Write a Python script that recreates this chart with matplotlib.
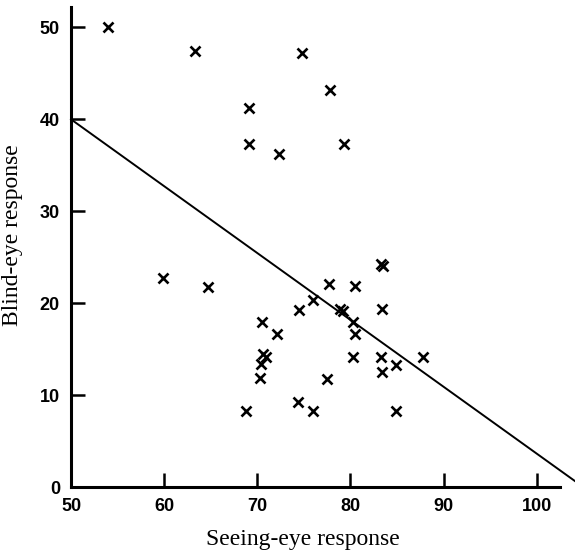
import matplotlib
matplotlib.use("Agg")
import matplotlib.pyplot as plt

# seeing-eye vs blind-eye responses
seeing = [54.0, 63.3, 74.8, 77.8, 69.1, 69.1, 72.3, 79.3,
          59.9, 64.7, 77.7, 80.5, 83.3, 83.5, 74.5, 76.0, 78.9, 79.2,
          80.3, 80.5, 83.4, 70.5, 72.1, 70.6, 70.9, 70.4, 70.3,
          80.3, 83.3, 84.9, 83.4, 77.5, 87.8,
          68.8, 74.4, 76.0, 84.9]
blind = [50.0, 47.4, 47.2, 43.2, 41.2, 37.3, 36.2, 37.3,
         22.7, 21.8, 22.1, 21.9, 24.3, 24.0, 19.3, 20.3, 19.4, 19.1,
         18.0, 16.6, 19.4, 18.0, 16.7, 14.5, 14.2, 13.4, 11.9,
         14.2, 14.2, 13.3, 12.5, 11.8, 14.2,
         8.3, 9.3, 8.3, 8.3]

# fitted line drawn on the figure
line_x = [50, 105]
line_y = [40, 0]

x_ticks = [50, 60, 70, 80, 90, 100]
y_ticks = [0, 10, 20, 30, 40, 50]

fig = plt.figure(figsize=(5.75, 5.51), dpi=100)
ax = fig.add_axes([0.1235, 0.116, 0.8505, 0.871])

ax.plot(seeing, blind, linestyle="none", marker="x", markersize=6.5,
        markeredgewidth=1.9, color="black")
ax.plot(line_x, line_y, color="black", linewidth=1.4, clip_on=False)

ax.set_xlim(50, 102.5)
ax.set_ylim(0, 52.2)
ax.set_xticks(x_ticks)
ax.set_yticks(y_ticks)

for side in ("top", "right"):
    ax.spines[side].set_visible(False)
for side in ("left", "bottom"):
    ax.spines[side].set_linewidth(2.2)

ax.tick_params(direction="in", length=10, width=1.8, pad=8)
for lab in ax.get_xticklabels() + ax.get_yticklabels():
    lab.set_fontfamily("Liberation Sans")
    lab.set_fontweight("bold")
    lab.set_fontsize(13)

ax.set_xlabel("Seeing-eye response", fontfamily="Liberation Serif",
              fontsize=17)
ax.set_ylabel("Blind-eye response", fontfamily="Liberation Serif",
              fontsize=17)
ax.xaxis.set_label_coords(0.474, -0.088)
ax.yaxis.set_label_coords(-0.098, 0.525)

fig.savefig("out.png", dpi=100)
